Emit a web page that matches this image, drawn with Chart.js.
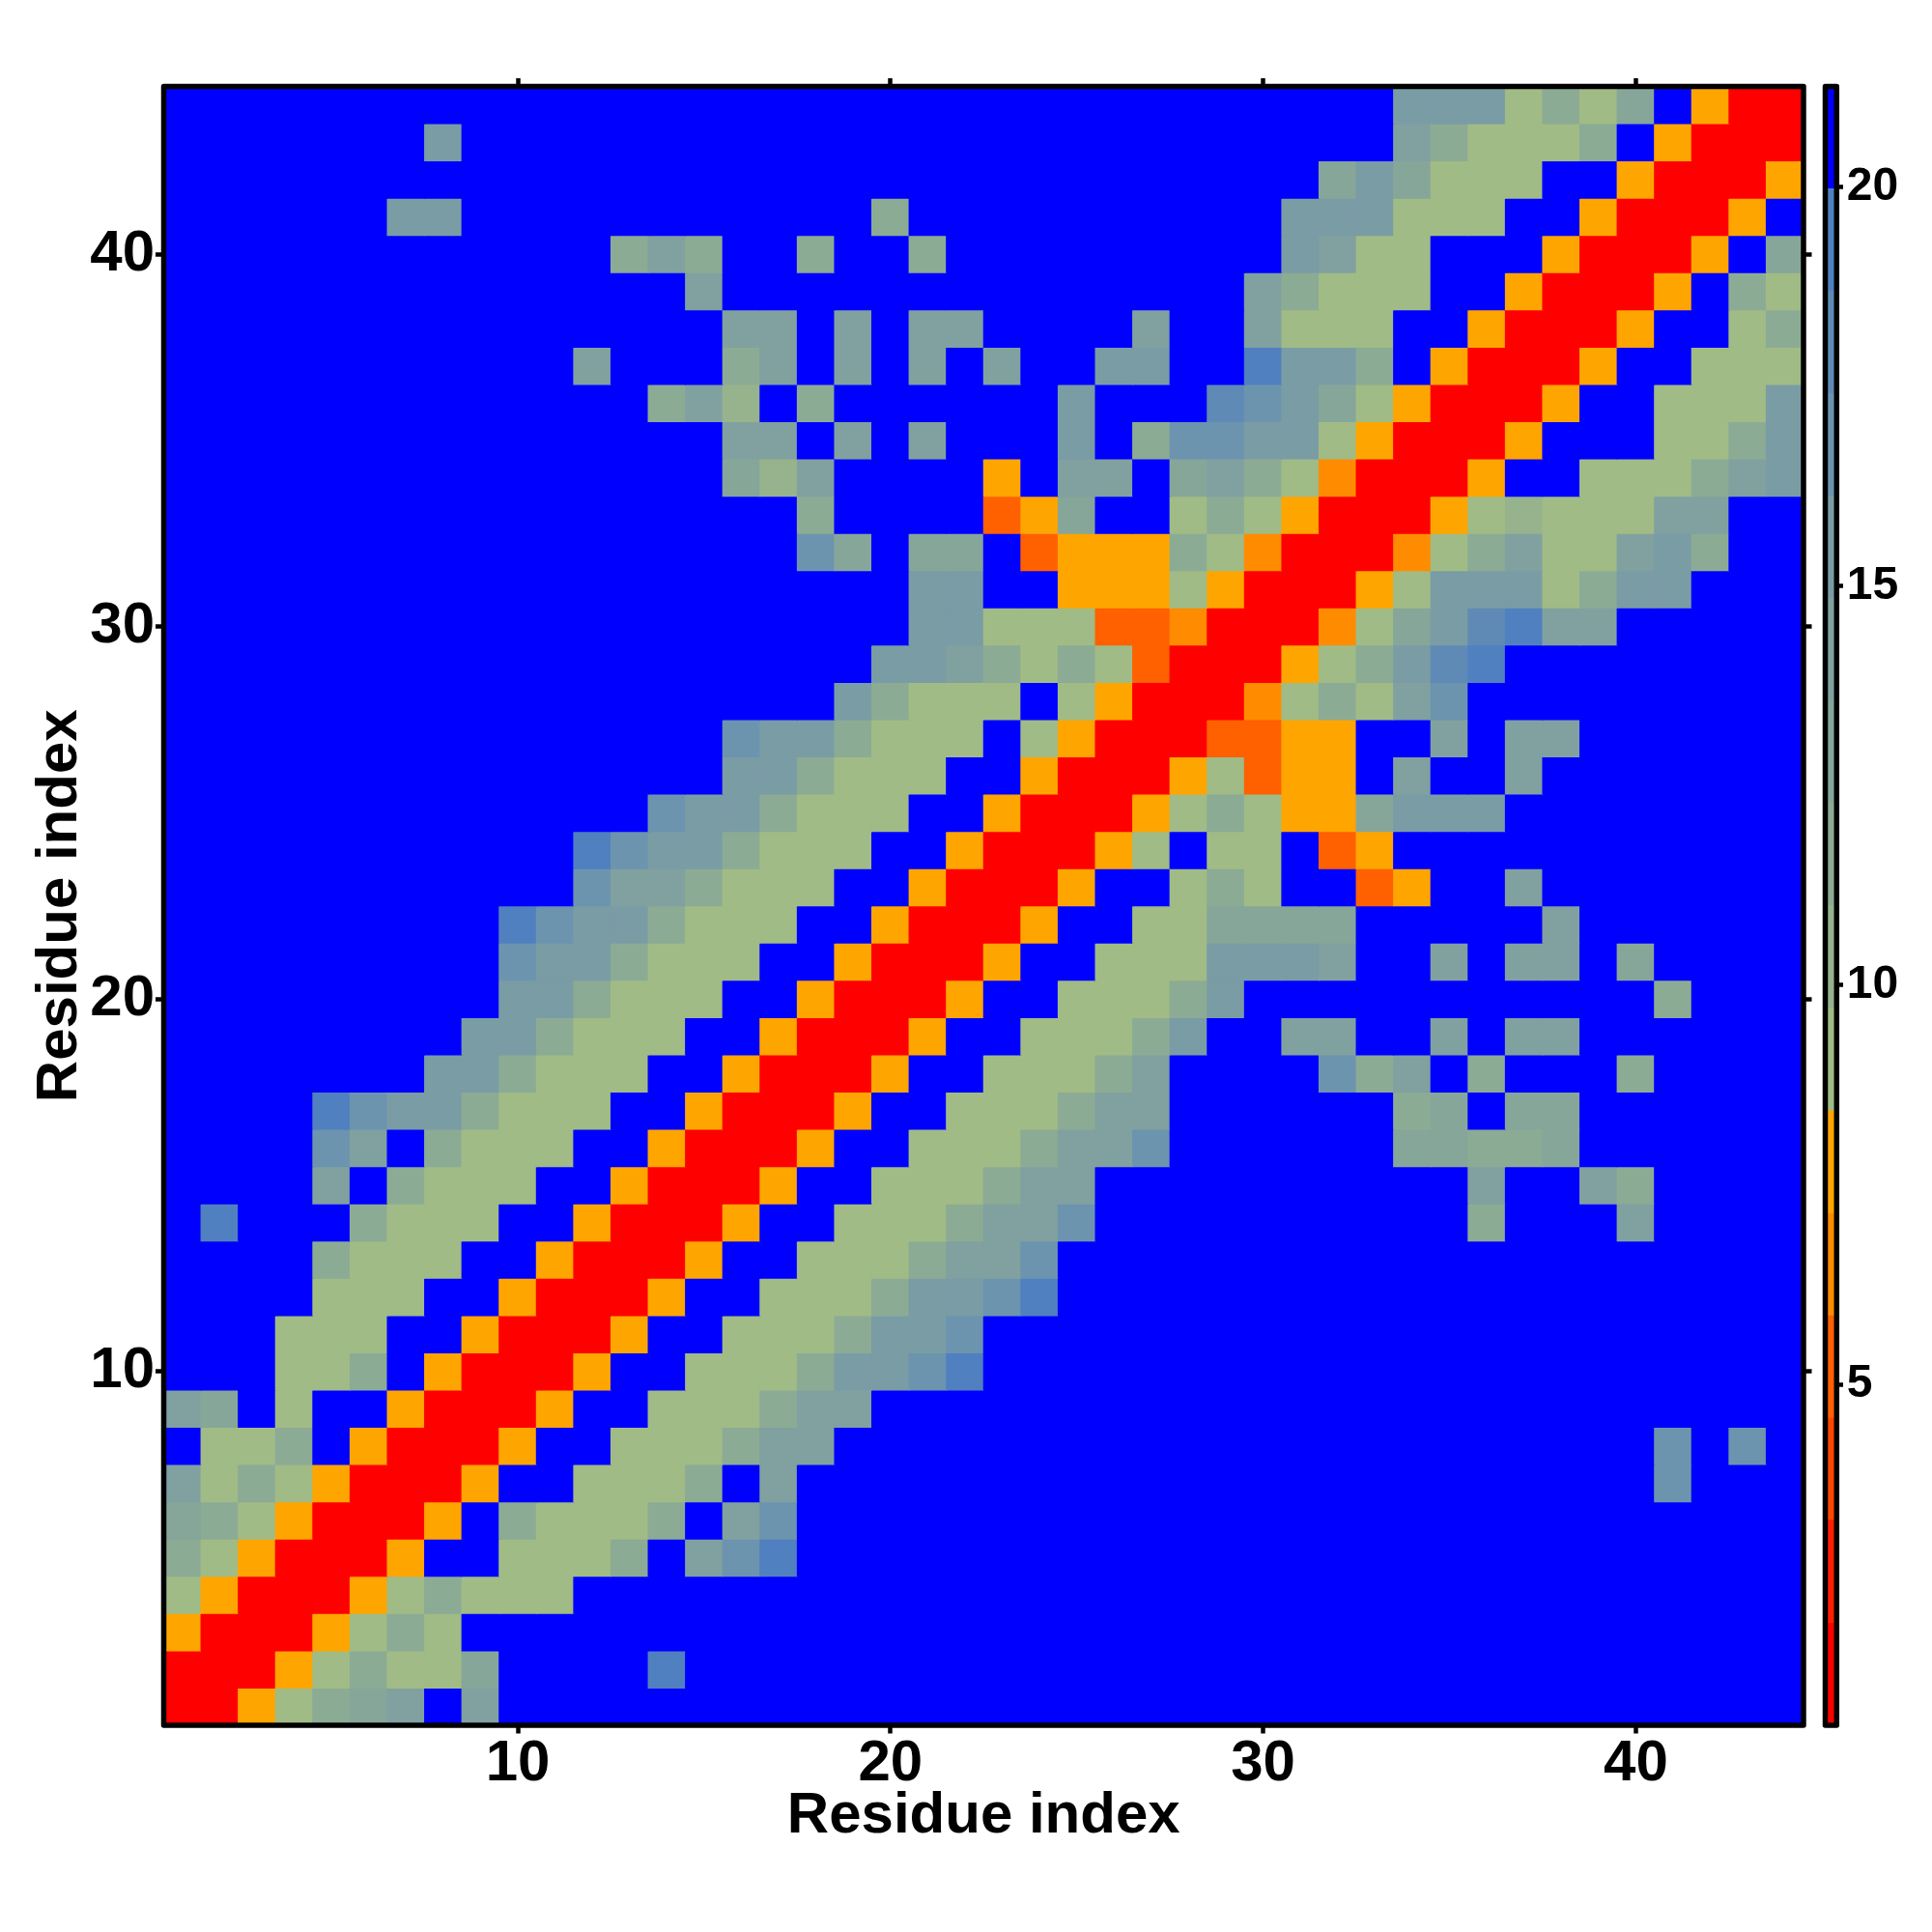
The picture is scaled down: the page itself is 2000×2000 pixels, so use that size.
<!DOCTYPE html>
<html>
<head>
<meta charset="utf-8">
<title>Residue distance map</title>
<script src="https://cdn.jsdelivr.net/npm/chart.js@4/dist/chart.umd.js"></script>
<style>
  html, body { margin: 0; padding: 0; background: #fff; }
  #wrap { position: relative; width: 2000px; height: 2000px; }
  #map { position: absolute; left: 0; top: 0; }
  #bar { position: absolute; left: 1870px; top: 0; }
</style>
</head>
<body>
<div id="wrap">
  <canvas id="map" width="2000" height="2000"></canvas>
  <canvas id="bar" width="130" height="2000"></canvas>
</div>
<script>
const axisTicks = [10, 20, 30, 40];
const colorbarTicks = [5, 10, 15, 20];
const axisTitle = "Residue index";

// colour bins of the bar, bottom to top (Angstrom-like distance edges)
const binEdges = [0.73, 2.01, 3.30, 4.58, 5.86, 7.15, 8.43, 9.71, 11.0, 12.28, 13.56, 14.85, 16.13, 17.41, 18.7, 19.98, 21.26];
const binColors = ["#ff0000", "#ff1f00", "#ff4500", "#ff6000", "#ff8c00", "#ffa500",
  "#a0bb85", "#96b38d", "#8cab94", "#86a69a", "#80a1a0", "#7a9ca5", "#6c94af", "#5f8ab5", "#5080bf", "#0000ff"];

// one string per residue row, row 1 first; each hex digit is the bin of that cell
const binRows = [
  "005689afaf ffffffffff ffffffffff ffffffffff ffff",
  "000568669f fffeffffff ffffffffff ffffffffff ffff",
  "50005686ff ffffffffff ffffffffff ffffffffff ffff",
  "6500056866 6fffffffff ffffffffff ffffffffff ffff",
  "8650005ff6 668facefff ffffffffff ffffffffff ffff",
  "98650005f8 6668facfff ffffffffff ffffffffff ffff",
  "a68650005f f6668fafff ffffffffff ffffffffff cfff",
  "f668f50005 ff6668aaff ffffffffff ffffffffff cfcf",
  "a9f6ff5000 5ff6668aaf ffffffffff ffffffffff ffff",
  "fff668f500 05ff6668bb ceffffffff ffffffffff ffff",
  "fff666ff50 005ff6668b bcffffffff ffffffffff ffff",
  "ffff666ff5 0005ff6668 bbceffffff ffffffffff ffff",
  "ffff8666ff 50005ff666 8aacffffff ffffffffff ffff",
  "fefff8666f f50005ff66 68aacfffff fffff8fffa ffff",
  "ffffaf8666 ff50005ff6 668aafffff fffffaffa8 ffff",
  "ffffcaf866 6ff50005ff 6668aacfff fff99889ff ffff",
  "ffffecbb86 66ff50005f f6668aafff fff89f99ff ffff",
  "fffffffbb8 666ff50005 ff6668afff fc8af8fff8 ffff",
  "ffffffffbb 8666ff5000 5ff6668bff aaffafaaff ffff",
  "fffffffffb b8666ff500 05ff6668bf ffffffffff 8fff",
  "fffffffffc bb8666ff50 005ff666bb baffafaaf9 ffff",
  "fffffffffe cbb8666ff5 0005ff6699 99fffffaff ffff",
  "ffffffffff fcaa8666ff 50005ff686 ff35ffafff ffff",
  "ffffffffff fecbb8666f f500056f66 f35fffffff ffff",
  "ffffffffff fffcbb8666 ff50005686 559bbbffff ffff",
  "ffffffffff fffffbb866 6ff5000563 55faffafff ffff",
  "ffffffffff fffffcbb86 66f6500033 55ffafaaff ffff",
  "ffffffffff ffffffffb8 666f650004 686acfffff ffff",
  "ffffffffff fffffffffb ba86863000 568bdeffff ffff",
  "ffffffffff ffffffffff bb66633400 0469bdeaaf ffff",
  "ffffffffff ffffffffff bbff555650 0056bbb68b bfff",
  "ffffffffff fffffffc9f 99f3555864 000468a66a b8ff",
  "ffffffffff fffffff8ff ff359ff686 5000567666 aaff",
  "ffffffffff fffff97aff ff5faaf9a8 640005ff66 68ab",
  "ffffffffff fffffaafaf afffbf8ccb b650005fff 668b",
  "ffffffffff fff8a7f8ff ffffbfffdc b9650005ff 666b",
  "ffffffffff fafff8afaf afaffbbffe bb8f50005f f666",
  "ffffffffff fffffaafaf aaffffaffa 666ff50005 ff68",
  "ffffffffff ffffafffff fffffffffa 8666ff5000 5f86",
  "ffffffffff ff8a8ff8ff 8fffffffff ba66fff500 05f9",
  "ffffffbbff fffffffff8 ffffffffff bbb666ff50 005f",
  "ffffffffff ffffffffff ffffffffff f9b9666ff5 0005",
  "fffffffbff ffffffffff ffffffffff fffa86668f 5000",
  "ffffffffff ffffffffff ffffffffff fffbbb6869 f500"
];

const labelFont = { family: "'Liberation Sans', Arial, sans-serif", weight: "bold" };

const cells = [];
binRows.forEach((row, r) => {
  row.replace(/ /g, "").split("").forEach((digit, c) => {
    cells.push({ x: c + 1, y: [r + 0.5, r + 1.5], bin: parseInt(digit, 16) });
  });
});

// thick box centred on the plot edge, same on the map and on the colour bar
const framePlugin = {
  id: "frame",
  afterDraw(chart) {
    const { ctx, chartArea: a } = chart;
    ctx.save();
    ctx.strokeStyle = "#000";
    ctx.lineWidth = 5.5;
    ctx.lineJoin = "round";
    ctx.strokeRect(a.left, a.top, a.right - a.left, a.bottom - a.top);
    ctx.restore();
  }
};

// the far bin as a backing so the cell edges don't show white seams
const backingPlugin = {
  id: "backing",
  beforeDatasetsDraw(chart) {
    const { ctx, chartArea: a } = chart;
    ctx.save();
    ctx.fillStyle = binColors[15];
    ctx.fillRect(a.left, a.top, a.right - a.left, a.bottom - a.top);
    ctx.restore();
  }
};

function setTicks(values) {
  return (axis) => { axis.ticks = values.map((v) => ({ value: v })); };
}

function residueAxis(position, boxSize, showLabels, axisId) {
  const horizontal = position === "top" || position === "bottom";
  const axis = {
    type: "linear",
    position: position,
    axis: axisId,
    min: 0.5,
    max: 44.5,
    offset: false,
    afterBuildTicks: setTicks(axisTicks),
    afterFit(scale) {
      if (horizontal) scale.height = boxSize; else scale.width = boxSize;
    },
    border: { display: false },
    grid: { offset: false, drawOnChartArea: false, tickLength: 8.5, tickWidth: 4.5, tickColor: "#000" },
    ticks: {
      display: showLabels,
      autoSkip: false,
      maxRotation: 0,
      minRotation: 0,
      padding: horizontal ? -4 : 1,
      color: "#000",
      font: { ...labelFont, size: 60 },
      callback: (v) => String(v)
    }
  };
  if (showLabels) {
    axis.title = {
      display: true,
      text: axisTitle,
      color: "#000",
      font: { ...labelFont, size: 60 },
      padding: horizontal ? { top: 0, bottom: 84 } : { top: 26.5, bottom: 0 }
    };
  }
  return axis;
}

new Chart(document.getElementById("map"), {
  type: "bar",
  data: {
    datasets: [{
      data: cells,
      backgroundColor: (ctx) => binColors[ctx.raw ? ctx.raw.bin : 15],
      borderWidth: 0,
      inflateAmount: 0.5,
      barPercentage: 1,
      categoryPercentage: 1
    }]
  },
  options: {
    responsive: false,
    animation: false,
    devicePixelRatio: 1,
    events: [],
    layout: { padding: 0 },
    plugins: { legend: { display: false }, tooltip: { enabled: false } },
    scales: {
      x: residueAxis("bottom", 214, true, "x"),
      xTop: residueAxis("top", 89.5, false, "x"),
      y: residueAxis("left", 169.5, true, "y"),
      yRight: residueAxis("right", 133, false, "y")
    }
  },
  plugins: [backingPlugin, framePlugin]
});

new Chart(document.getElementById("bar"), {
  type: "bar",
  data: {
    labels: [""],
    datasets: binColors.map((color, i) => ({
      data: [[binEdges[i], binEdges[i + 1]]],
      backgroundColor: color,
      borderWidth: 0,
      grouped: false,
      barPercentage: 1,
      categoryPercentage: 1
    }))
  },
  options: {
    responsive: false,
    animation: false,
    devicePixelRatio: 1,
    events: [],
    layout: { padding: { left: 19.5, top: 89.5, bottom: 214, right: 0 } },
    plugins: { legend: { display: false }, tooltip: { enabled: false } },
    scales: {
      x: { display: false },
      y: {
        position: "right",
        min: binEdges[0],
        max: binEdges[binEdges.length - 1],
        afterBuildTicks: setTicks(colorbarTicks),
        afterFit(scale) { scale.width = 98.7; },
        border: { display: false },
        grid: { drawOnChartArea: false, tickLength: 6.7, tickWidth: 4.5, tickColor: "#000" },
        ticks: {
          autoSkip: false,
          padding: 3.7,
          color: "#000",
          font: { ...labelFont, size: 48 },
          callback: (v) => String(v)
        }
      }
    }
  },
  plugins: [framePlugin]
});
</script>
</body>
</html>
